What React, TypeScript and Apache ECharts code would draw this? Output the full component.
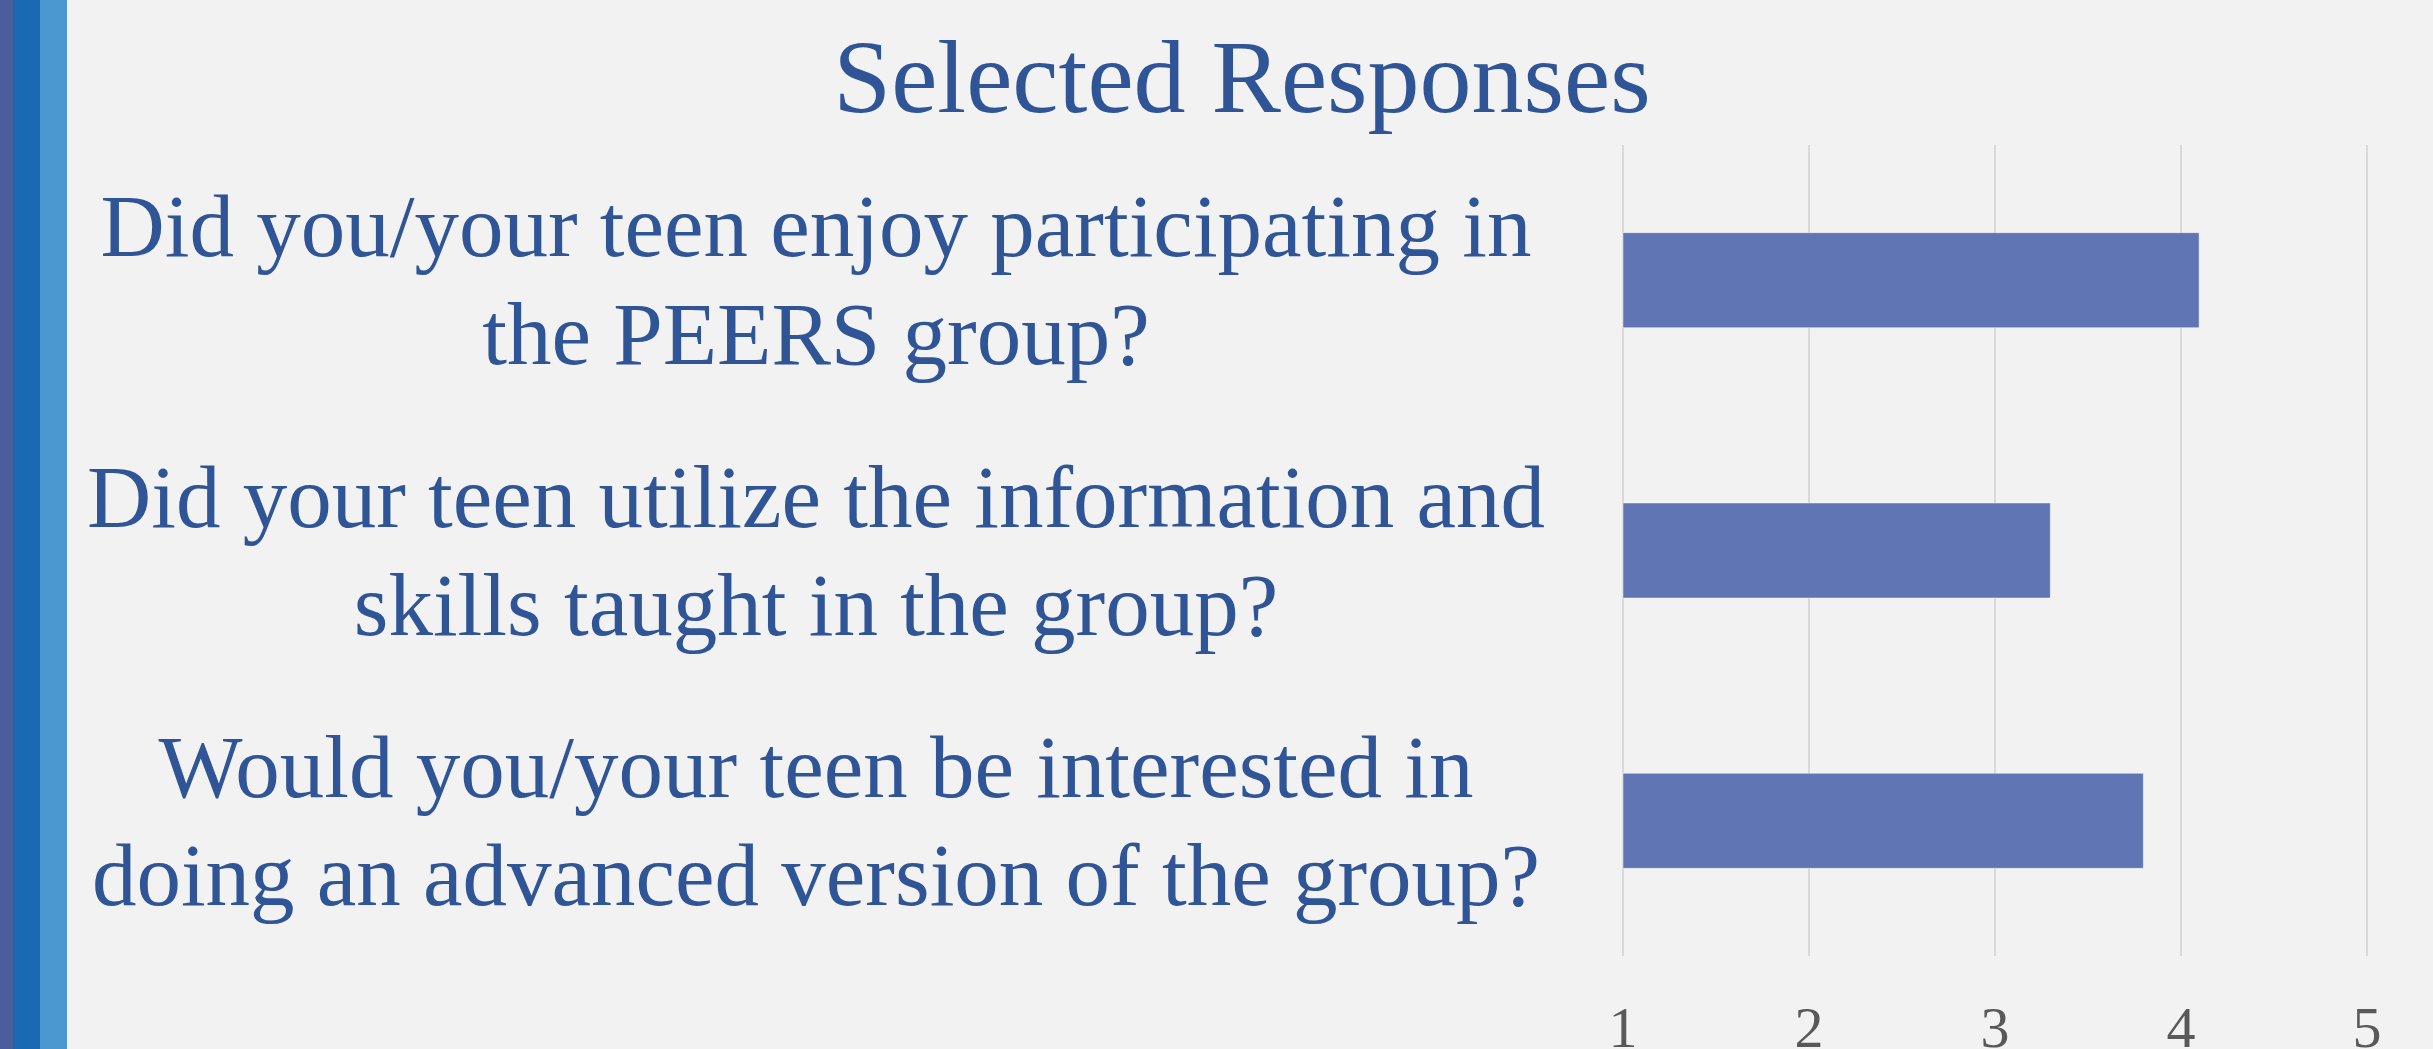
import React, { useEffect, useRef } from "react";
import * as echarts from "echarts";

const titleText = "Selected Responses";
const categories = [
  "Did you/your teen enjoy participating in\nthe PEERS group?",
  "Did your teen utilize the information and\nskills taught in the group?",
  "Would you/your teen be interested in\ndoing an advanced version of the group?",
];
const values = [4.1, 3.3, 3.8];
const axisMin = 1;
const axisMax = 5;
const axisInterval = 1;

const SERIF = '"Liberation Serif", "Times New Roman", serif';

export default function App() {
  const ref = useRef<HTMLDivElement>(null);
  useEffect(() => {
    if (!ref.current) return;
    const chart = echarts.init(ref.current, null, { renderer: "svg" });
    chart.setOption({
      animation: false,
      backgroundColor: "#F2F2F2",
      title: {
        text: titleText,
        left: 1242,
        top: 24,
        padding: 0,
        textAlign: "center",
        textStyle: {
          fontFamily: SERIF,
          fontSize: 104,
          fontWeight: "normal",
          color: "#2F5597",
        },
      },
      graphic: [
        { type: "rect", shape: { x: 0, y: 0, width: 13, height: 1049 }, style: { fill: "#4A5E9C" } },
        { type: "rect", shape: { x: 13, y: 0, width: 27, height: 1049 }, style: { fill: "#1A69B3" } },
        { type: "rect", shape: { x: 40, y: 0, width: 27, height: 1049 }, style: { fill: "#4B98D1" } },
      ],
      grid: {
        left: 1623,
        right: 66,
        top: 145,
        bottom: 93,
        containLabel: false,
        outerBoundsMode: "none",
      },
      xAxis: {
        type: "value",
        min: axisMin,
        max: axisMax,
        interval: axisInterval,
        axisLine: { show: false },
        axisTick: { show: false },
        splitLine: { show: true, lineStyle: { color: "#D9D9D9", width: 2 } },
        axisLabel: {
          fontFamily: SERIF,
          fontSize: 58,
          color: "#595959",
          margin: 42,
        },
      },
      yAxis: {
        type: "category",
        inverse: true,
        data: categories,
        axisLine: { show: false },
        axisTick: { show: false },
        splitLine: { show: false },
        axisLabel: {
          fontFamily: SERIF,
          fontSize: 89,
          lineHeight: 108,
          color: "#2F5597",
          align: "center",
          margin: 807,
          padding: [0, 0, 22, 0],
        },
      },
      series: [
        {
          type: "bar",
          data: values,
          barWidth: 96,
          clip: true,
          itemStyle: {
            color: "#6076B4",
            borderColor: "rgba(255,255,255,0.45)",
            borderWidth: 1,
          },
        },
      ],
    });
    return () => chart.dispose();
  }, []);
  return (
    <div
      ref={ref}
      style={{ position: "fixed", left: 0, top: 0, width: 2433, height: 1049 }}
    />
  );
}
